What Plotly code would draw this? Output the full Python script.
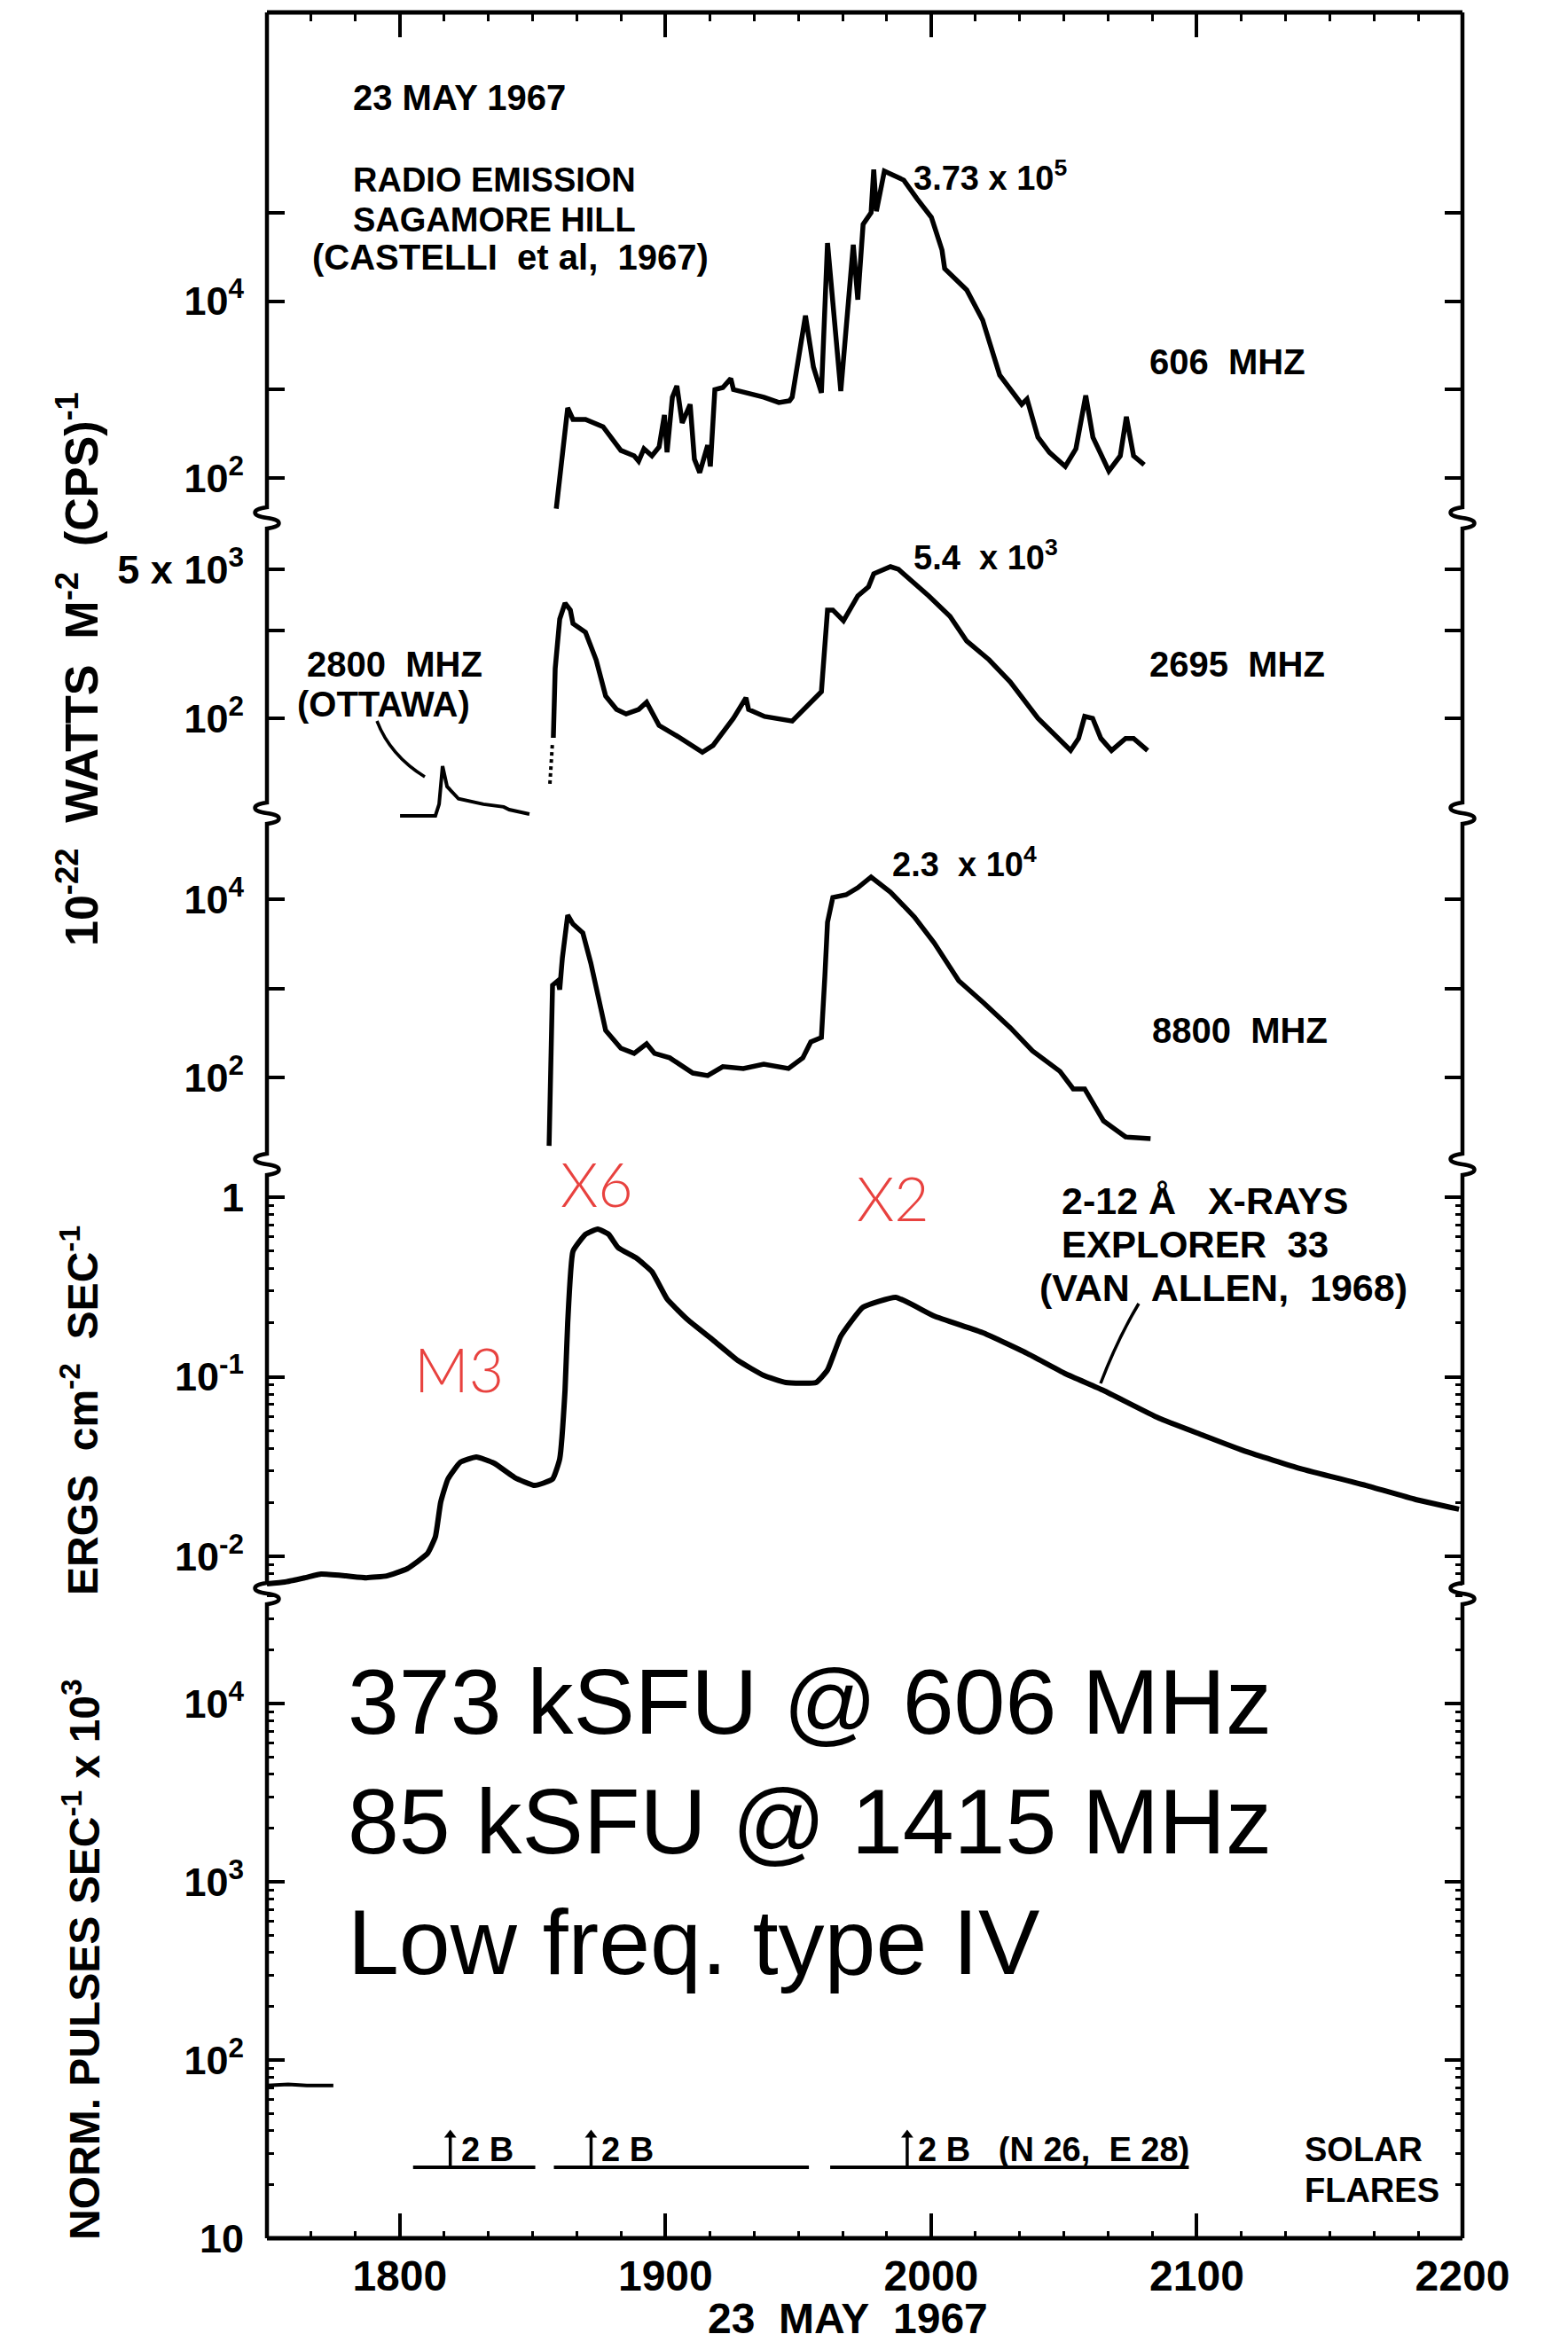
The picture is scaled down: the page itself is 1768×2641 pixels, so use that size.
import numpy as np
import plotly.graph_objects as go

W, H = 1768, 2641

# ---------------- data (UT decimal hours, 23 May 1967) ----------------
t606 = [18.589, 18.632, 18.652, 18.699, 18.765, 18.796, 18.832, 18.882, 18.899, 18.919,
        18.949, 18.976, 18.996, 19.006, 19.026, 19.043, 19.063, 19.093, 19.109, 19.129,
        19.149, 19.159, 19.169, 19.186, 19.216, 19.246, 19.256, 19.370, 19.427, 19.467,
        19.477, 19.527, 19.557, 19.587, 19.610, 19.660, 19.707, 19.724, 19.744, 19.774,
        19.784, 19.794, 19.824, 19.867, 19.897, 19.947, 20.001, 20.041, 20.051, 20.134,
        20.164, 20.194, 20.258, 20.341, 20.361, 20.402, 20.445, 20.505, 20.545, 20.582,
        20.609, 20.669, 20.712, 20.735, 20.762, 20.802]
f606 = [45, 620, 460, 460, 380, 290, 205, 178, 155, 214,
        178, 224, 515, 195, 820, 1100, 420, 680, 163, 115,
        178, 235, 135, 1000, 1055, 1330, 1000, 820, 713, 746,
        818, 6850, 1800, 920, 45500, 960, 43500, 10400, 74000, 100000,
        309000, 104000, 295000, 257000, 234000, 144000, 89000, 37800, 23300, 13400,
        9040, 6100, 1460, 680, 780, 290, 195, 135, 214, 857,
        289, 120, 178, 492, 178, 141]

t2695_dash = [18.565, 18.575]
f2695_dash = [17.9, 54.6]
t2695 = [18.578, 18.585, 18.602, 18.622, 18.642, 18.652, 18.699, 18.739, 18.775, 18.816,
         18.852, 18.899, 18.929, 18.976, 19.043, 19.139, 19.179, 19.256, 19.303, 19.313,
         19.373, 19.477, 19.587, 19.610, 19.630, 19.670, 19.724, 19.764, 19.784, 19.847,
         19.877, 19.991, 20.071, 20.134, 20.218, 20.298, 20.402, 20.485, 20.525, 20.555,
         20.578, 20.608, 20.639, 20.679, 20.732, 20.762, 20.815]
f2695 = [60, 368, 1350, 2050, 1710, 1200, 955, 464, 179, 126,
         112, 126, 152, 83, 63, 41, 49, 100, 171, 126,
         105, 93, 201, 1710, 1710, 1290, 2480, 3130, 4430, 5330,
         4980, 2480, 1450, 757, 464, 259, 100, 55, 43, 59,
         105, 100, 59, 43, 59, 59, 43]

t2800 = [18.001, 18.134, 18.148, 18.161, 18.178, 18.221, 18.315, 18.391, 18.412, 18.488]
f2800 = [7.75, 7.75, 10.5, 28.5, 16.7, 12.1, 10.5, 9.8, 9.1, 8.1]

t8800 = [18.562, 18.575, 18.595, 18.602, 18.612, 18.632, 18.652, 18.689, 18.719, 18.775,
         18.832, 18.882, 18.929, 18.959, 19.016, 19.103, 19.159, 19.216, 19.293, 19.370,
         19.463, 19.517, 19.547, 19.587, 19.600, 19.610, 19.630, 19.680, 19.724, 19.774,
         19.847, 19.937, 20.011, 20.104, 20.198, 20.298, 20.381, 20.485, 20.535, 20.578,
         20.649, 20.732, 20.826]
f8800 = [17.1, 1084, 1216, 966, 2200, 6620, 5260, 4185, 1923, 337,
         213, 186, 239, 186, 166, 112, 105, 132, 126, 141,
         126, 166, 250, 281, 1361, 5510, 10470, 11220, 13460, 17740,
         12020, 6320, 3250, 1216, 685, 361, 199, 117, 74.3, 74.3,
         32.5, 21.5, 20.6]

txray = [17.500, 17.567, 17.644, 17.704, 17.797, 17.874, 17.951, 18.028, 18.104, 18.134,
         18.154, 18.181, 18.228, 18.288, 18.355, 18.432, 18.508, 18.575, 18.602, 18.622,
         18.632, 18.652, 18.699, 18.745, 18.786, 18.822, 18.892, 18.949, 19.006, 19.083,
         19.179, 19.273, 19.370, 19.453, 19.567, 19.610, 19.660, 19.744, 19.867, 20.011,
         20.198, 20.361, 20.505, 20.649, 20.856, 21.019, 21.186, 21.390, 21.637, 21.824,
         21.987]
fxray = [0.00703, 0.00719, 0.0076, 0.00796, 0.00778, 0.0076, 0.00778, 0.00853, 0.01035, 0.01285,
         0.020, 0.0269, 0.0334, 0.0357, 0.033, 0.0275, 0.0248, 0.0269, 0.0349, 0.0838,
         0.199, 0.50, 0.621, 0.664, 0.621, 0.523, 0.456, 0.385, 0.271, 0.208,
         0.160, 0.123, 0.1017, 0.0929, 0.0929, 0.109, 0.168, 0.244, 0.277, 0.218,
         0.175, 0.135, 0.104, 0.0838, 0.0589, 0.0475, 0.0383, 0.0308, 0.0248, 0.0207,
         0.0183]

tneut = [17.50, 17.58, 17.65, 17.75]
fneut = [72, 73, 72, 72]

flare_start = [18.05, 18.58, 19.62]
flare_end = [18.51, 19.54, 20.97]
flare_peak = [18.19, 18.72, 19.91]
flare_label = ["2 B", "2 B", "2 B&nbsp;&nbsp;&nbsp;(N&nbsp;26,&nbsp;&nbsp;E&nbsp;28)"]
FLARE_LEVEL, FLARE_TIP, FLARE_TEXT = 25, 38, 31.6

hour_vals = [18, 19, 20, 21, 22]
hour_text = ["1800", "1900", "2000", "2100", "2200"]
T0, T1 = 17.5, 22.0

# ---------------- layout geometry (pixels) ----------------
X0, X1 = 301, 1649
YTOP, YBOT = 14, 2524
BREAKS = [584, 917, 1313, 1797]
# (top px, bottom px, reference px, reference log10, px per decade)
panels = [
    (14, 584, 539, 2.0, 99.7),
    (584, 930, 810, 2.0, 99.0),
    (917, 1313, 1215, 2.0, 100.5),
    (1313, 1797, 1350, 0.0, 202.5),
    (1797, 2524, 2524, 1.0, 201.0),
]
ytick_vals = [
    [1e2, 1e3, 1e4, 1e5],
    [1e2, 1e3, 5e3],
    [1e2, 1e3, 1e4],
    [1e-2, 1e-1, 1],
    [10, 1e2, 1e3, 1e4],
]
ytick_text = [
    ["10<sup>2</sup>", "", "10<sup>4</sup>", ""],
    ["10<sup>2</sup>", "", "5 x 10<sup>3</sup>"],
    ["10<sup>2</sup>", "", "10<sup>4</sup>"],
    ["10<sup>-2</sup>", "10<sup>-1</sup>", "1"],
    ["10", "10<sup>2</sup>", "10<sup>3</sup>", "10<sup>4</sup>"],
]


def px(x):
    return x / W


def py(y):
    return 1 - y / H


LET = "Liberation Sans, Arial, Helvetica, sans-serif"
tickfont = dict(family=LET, size=45, color="black", weight="bold")

fig = go.Figure()
line = dict(color="black", width=5.5)

fig.add_trace(go.Scatter(x=t606, y=f606, mode="lines", line=line, xaxis="x", yaxis="y"))
fig.add_trace(go.Scatter(x=t2695_dash, y=f2695_dash, mode="lines",
                         line=dict(color="black", width=4, dash="4px,4px"), xaxis="x2", yaxis="y2"))
fig.add_trace(go.Scatter(x=t2695, y=f2695, mode="lines", line=line, xaxis="x2", yaxis="y2"))
fig.add_trace(go.Scatter(x=t2800, y=f2800, mode="lines", line=dict(color="black", width=4),
                         xaxis="x2", yaxis="y2"))
fig.add_trace(go.Scatter(x=t8800, y=f8800, mode="lines", line=line, xaxis="x3", yaxis="y3"))
fig.add_trace(go.Scatter(x=txray, y=fxray, mode="lines",
                         line=dict(color="black", width=6, shape="spline", smoothing=0.4),
                         xaxis="x4", yaxis="y4"))
fig.add_trace(go.Scatter(x=tneut, y=fneut, mode="lines", line=dict(color="black", width=4),
                         xaxis="x5", yaxis="y5"))

# solar flare bars and arrows
bx, by = [], []
for s, e in zip(flare_start, flare_end):
    bx += [s, e, None]
    by += [FLARE_LEVEL, FLARE_LEVEL, None]
fig.add_trace(go.Scatter(x=bx, y=by, mode="lines", line=dict(color="black", width=4),
                         xaxis="x5", yaxis="y5"))
ax_, ay_ = [], []
for p in flare_peak:
    ax_ += [p, p, None]
    ay_ += [FLARE_LEVEL, FLARE_TIP, None]
fig.add_trace(go.Scatter(x=ax_, y=ay_, mode="lines", line=dict(color="black", width=3.5),
                         xaxis="x5", yaxis="y5"))
fig.add_trace(go.Scatter(x=flare_peak, y=[FLARE_TIP] * len(flare_peak), mode="markers",
                         marker=dict(symbol="triangle-up", size=12, color="black"),
                         xaxis="x5", yaxis="y5"))

layout = dict(width=W, height=H, autosize=False,
              margin=dict(l=0, r=0, t=0, b=0, pad=0, autoexpand=False),
              paper_bgcolor="white", plot_bgcolor="rgba(0,0,0,0)", showlegend=False)

minor_x = [T0 + k / 6 for k in range(28)]
for i, (top, bot, rp, rl, ppd) in enumerate(panels, start=1):
    sfx = "" if i == 1 else str(i)
    rng = [rl - (bot - rp) / ppd, rl + (rp - top) / ppd]
    yax = dict(type="log", range=rng, domain=[py(bot), py(top)], anchor="x" + sfx,
               automargin=False,
               showgrid=False, zeroline=False, showline=True, linecolor="rgba(0,0,0,0)",
               mirror="ticks", ticks="inside", ticklen=20, tickwidth=4, tickcolor="black",
               tickmode="array", tickvals=ytick_vals[i - 1], ticktext=ytick_text[i - 1],
               tickfont=tickfont, ticklabelstandoff=16)
    if i in (4, 5):
        decs = range(-3, 1) if i == 4 else range(1, 5)
        mv = [m * 10.0 ** d for d in decs for m in range(2, 10)]
        yax["minor"] = dict(tickmode="array", tickvals=mv, ticks="inside", ticklen=8,
                            tickwidth=3, tickcolor="black")
    layout["yaxis" + sfx] = yax
    xax = dict(range=[T0, T1], domain=[px(X0), px(X1)], anchor="y" + sfx, automargin=False,
               showgrid=False, zeroline=False, showline=False)
    if i == 1:
        xax.update(side="top", ticks="inside", ticklen=28, tickwidth=4, tickcolor="black",
                   tickmode="array", tickvals=hour_vals[:-1], showticklabels=False,
                   minor=dict(tickmode="array", tickvals=minor_x, ticks="inside",
                              ticklen=10, tickwidth=3, tickcolor="black"))
    elif i == 5:
        xax.update(side="bottom", ticks="inside", ticklen=28, tickwidth=4, tickcolor="black",
                   tickmode="array", tickvals=hour_vals, ticktext=hour_text,
                   tickfont=dict(family=LET, size=48, color="black", weight="bold"),
                   ticklabelstandoff=10,
                   minor=dict(tickmode="array", tickvals=minor_x, ticks="inside",
                              ticklen=8, tickwidth=3, tickcolor="black"))
    else:
        xax.update(visible=False)
    layout["xaxis" + sfx] = xax

fig.update_layout(**layout)


# ---------------- frame with break marks ----------------
def side_path(x):
    s = f"M {px(x):.6f},{py(YTOP):.6f}"
    for yb in BREAKS:
        s += f" L {px(x):.6f},{py(yb - 12):.6f}"
        s += (f" C {px(x - 18):.6f},{py(yb - 10):.6f} {px(x - 18):.6f},{py(yb - 2):.6f}"
              f" {px(x):.6f},{py(yb):.6f}")
        s += (f" C {px(x + 18):.6f},{py(yb + 2):.6f} {px(x + 18):.6f},{py(yb + 10):.6f}"
              f" {px(x):.6f},{py(yb + 12):.6f}")
    s += f" L {px(x):.6f},{py(YBOT):.6f}"
    return s


shapes = [
    dict(type="path", path=side_path(X0), xref="paper", yref="paper",
         line=dict(color="black", width=4.5)),
    dict(type="path", path=side_path(X1), xref="paper", yref="paper",
         line=dict(color="black", width=4.5)),
    dict(type="line", x0=px(X0), x1=px(X1), y0=py(YTOP), y1=py(YTOP), xref="paper",
         yref="paper", line=dict(color="black", width=5)),
    dict(type="line", x0=px(X0), x1=px(X1), y0=py(YBOT), y1=py(YBOT), xref="paper",
         yref="paper", line=dict(color="black", width=5)),
    # leader lines
    dict(type="path", xref="paper", yref="paper", line=dict(color="black", width=3.5),
         path=f"M {px(425):.6f},{py(813):.6f} Q {px(440):.6f},{py(852):.6f} {px(479):.6f},{py(876):.6f}"),
    dict(type="path", xref="paper", yref="paper", line=dict(color="black", width=3.5),
         path=f"M {px(1284):.6f},{py(1470):.6f} Q {px(1260):.6f},{py(1510):.6f} {px(1241):.6f},{py(1560):.6f}"),
]
fig.update_layout(shapes=shapes)

# ---------------- text ----------------
anns = []


def ann(text, x, y, size=38, xanchor="left", family=LET, weight="bold", color="black",
        angle=0):
    anns.append(dict(text=text, x=px(x), y=py(y), xref="paper", yref="paper",
                     xanchor=xanchor, yanchor="middle", showarrow=False, textangle=angle,
                     font=dict(family=family, size=size, color=color, weight=weight)))


ann("23 MAY 1967", 396, 110, size=40)
ann("RADIO EMISSION", 396, 203)
ann("SAGAMORE HILL", 396, 248)
ann("(CASTELLI&nbsp;&nbsp;et al,&nbsp;&nbsp;1967)", 350, 290, size=40)
ann("3.73 x 10<sup>5</sup>", 1028, 198, size=38)
ann("606&nbsp;&nbsp;MHZ", 1294, 408, size=40)
ann("5.4&nbsp;&nbsp;x 10<sup>3</sup>", 1028, 626, size=38)
ann("2695&nbsp;&nbsp;MHZ", 1294, 749, size=40)
ann("2800&nbsp;&nbsp;MHZ", 344, 749, size=40)
ann("(OTTAWA)", 333, 794, size=40)
ann("2.3&nbsp;&nbsp;x 10<sup>4</sup>", 1004, 972, size=38)
ann("8800&nbsp;&nbsp;MHZ", 1297, 1162, size=40)
ann("2-12 Å&nbsp;&nbsp;&nbsp;X-RAYS", 1195, 1354, size=43)
ann("EXPLORER&nbsp;&nbsp;33", 1195, 1403, size=42)
ann("(VAN&nbsp;&nbsp;ALLEN,&nbsp;&nbsp;1968)", 1170, 1452, size=43)
ann("SOLAR", 1469, 2424, size=38)
ann("FLARES", 1469, 2470, size=38)
ann("23&nbsp;&nbsp;MAY&nbsp;&nbsp;1967", 956, 2614, size=48, xanchor="center")

RED = "#e8423f"
THIN = "Lato, Open Sans, sans-serif"
ann("X6", 673, 1334, size=68, xanchor="center", family=THIN, weight=300, color=RED)
ann("X2", 1007, 1350, size=68, xanchor="center", family=THIN, weight=300, color=RED)
ann("M3", 517, 1543, size=68, xanchor="center", family=THIN, weight=300, color=RED)

HELV = "Liberation Sans, Arial, Helvetica, sans-serif"
ann("373 kSFU @ 606 MHz", 390, 1919, size=104, family=HELV, weight="normal")
ann("85 kSFU @ 1415 MHz", 390, 2054, size=104, family=HELV, weight="normal")
ann("Low freq. type IV", 390, 2190, size=104, family=HELV, weight="normal")

ann("10<sup>-22</sup>&nbsp;&nbsp;WATTS&nbsp;&nbsp;M<sup>-2</sup>&nbsp;&nbsp;(CPS)<sup>-1</sup>",
    88, 755, size=52, xanchor="center", angle=-90)
ann("ERGS&nbsp;&nbsp;cm<sup>-2</sup>&nbsp;&nbsp;SEC<sup>-1</sup>", 90, 1591, size=48,
    xanchor="center", angle=-90)
ann("NORM. PULSES SEC<sup>-1</sup> x 10<sup>3</sup>", 92, 2210, size=48,
    xanchor="center", angle=-90)

for p, lab in zip(flare_peak, flare_label):
    anns.append(dict(text=lab, x=p, y=np.log10(FLARE_TEXT), xref="x5", yref="y5",
                     xanchor="left", yanchor="middle", xshift=10, showarrow=False,
                     font=dict(family=LET, size=38, color="black", weight="bold")))

fig.update_layout(annotations=anns)
fig.write_html("out.html")
